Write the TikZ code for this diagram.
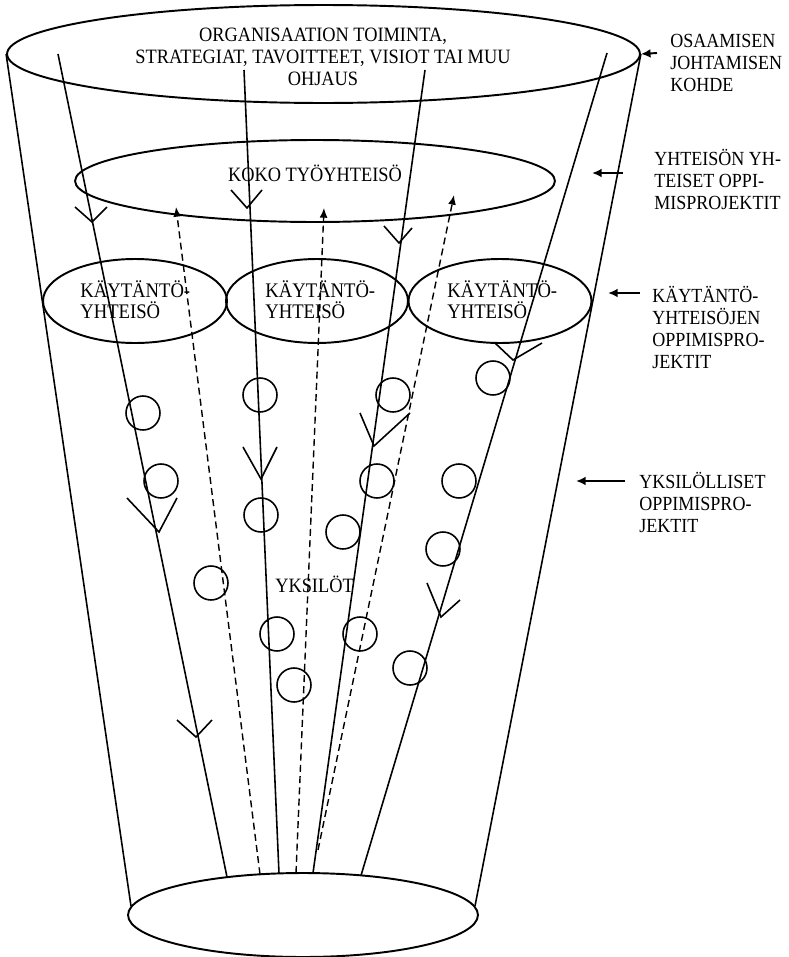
\documentclass[tikz,border=0pt]{standalone}
\usepackage{fontspec}
\setmainfont{Liberation Serif}[FakeStretch=0.9]
\usetikzlibrary{arrows.meta,shapes.geometric}
% fixed height for the first line of multi-line labels
\newcommand\firstrule{\rule{0pt}{12pt}}
\begin{document}
\begin{tikzpicture}[x=0.02cm,y=-0.02cm,
  rim/.style={draw,ellipse,line width=1.1pt,inner sep=0pt},
  person/.style={draw,circle,line width=0.9pt,minimum size=0.68cm,inner sep=0pt},
  flow/.style={line width=0.9pt},
  chevron/.style={line width=0.9pt},
  upflow/.style={line width=0.8pt,dash pattern=on 4pt off 2.4pt,-{Latex[length=5.5pt,width=4.5pt]}},
  pointer/.style={line width=1.1pt,-{Latex[length=5.5pt,width=5pt]}},
  body/.style={inner sep=0pt,font=\fontsize{11.6}{12.5}\selectfont},
  cop/.style={inner sep=0pt,anchor=north west,align=left,font=\fontsize{11.8}{11.9}\selectfont},
  side/.style={inner sep=0pt,anchor=north west,align=left,font=\fontsize{11.4}{12.6}\selectfont},
  ]
\useasboundingbox (0,0) rectangle (788,957);

% the cone: top and bottom rims
\node[rim,minimum width=12.66cm,minimum height=1.96cm] (top) at (323.5,54) {};
\node[rim,minimum width=7.0cm,minimum height=1.68cm] (bot) at (303,915) {};
\draw[flow] (top.west) -- (bot.177);
\draw[flow] (top.east) -- (bot.3);

% whole work community and communities of practice
\node[rim,minimum width=9.6cm,minimum height=1.64cm] (whole) at (315,181) {};
\node[rim,minimum width=3.68cm,minimum height=1.68cm] (cp1) at (135,301) {};
\node[rim,minimum width=3.64cm,minimum height=1.68cm] (cp2) at (317,301) {};
\node[rim,minimum width=3.66cm,minimum height=1.68cm] (cp3) at (500,301) {};

% texts
\node[body,anchor=north,align=center] (orgtext) at (323,19.9)
  {\firstrule ORGANISAATION TOIMINTA,\\STRATEGIAT, TAVOITTEET, VISIOT TAI MUU\\OHJAUS};
\node[body,anchor=base] (wholetext) at (315,181) {KOKO TYÖYHTEISÖ};
\node[cop] (cp1text) at (80,276) {\firstrule KÄYTÄNTÖ-\\YHTEISÖ};
\node[cop] (cp2text) at (265,276) {\firstrule KÄYTÄNTÖ-\\YHTEISÖ};
\node[cop] (cp3text) at (447,276) {\firstrule KÄYTÄNTÖ-\\YHTEISÖ};
\node[body,anchor=base] (indtext) at (314.5,592) {YKSILÖT};

% guiding lines from the top rim down to the bottom rim
\coordinate (s1) at (58,54);   \coordinate (e1) at (227,877);
\coordinate (s2) at (244,70);  \coordinate (e2) at (279,873.5);
\coordinate (s3) at (425,70);  \coordinate (e3) at (313,873);
\coordinate (s4) at (607,53);  \coordinate (e4) at (361,875.5);
\draw[flow] (s1) -- (e1);
\draw[flow] (s2) -- (e2);
\draw[flow] (s3) -- (e3);
\draw[flow] (s4) -- (e4);

% chevrons marking the downward direction
\draw[chevron] (75,207) -- (92,222) -- (107,207);
\draw[chevron] (231,190) -- (247,208) -- (262,190);
\draw[chevron] (384,226) -- (399,243) -- (412,228);
\draw[chevron] (495,343) -- (513,360) -- (542,343);
\draw[chevron] (243,447) -- (261,479) -- (277,447);
\draw[chevron] (360,413) -- (374,446) -- (410,413);
\draw[chevron] (127,498) -- (159,532) -- (177,498);
\draw[chevron] (427,583) -- (441,617) -- (460,600);
\draw[chevron] (177,720) -- (196,737) -- (212,720);

% dashed upward flows to the whole community
\coordinate (u1) at (260,874.3); \coordinate (t1) at (176,207);
\coordinate (u2) at (296,873);   \coordinate (t2) at (324,208);
\coordinate (u3) at (318,850);   \coordinate (t3) at (454,195);
\draw[upflow] (u1) -- (t1);
\draw[upflow] (u2) -- (t2);
\draw[upflow] (u3) -- (t3);

% individuals
\foreach \n/\px/\py in {1/143/413, 2/161/481, 3/260/395, 4/261/515, 5/393/395,
    6/377/481, 7/343/532, 8/493/378, 9/459/481, 10/443/549, 11/211/583,
    12/277/634, 13/360/634, 14/410/668, 15/294/685}
  \node[person] (p\n) at (\px,\py) {};

% level labels on the right
\node[side] (lab1) at (670,25.9) {\firstrule OSAAMISEN\\JOHTAMISEN\\KOHDE};
\node[side] (lab2) at (654,143.9) {\firstrule YHTEISÖN YH-\\TEISET OPPI-\\MISPROJEKTIT};
\node[side] (lab3) at (652,280.9) {\firstrule KÄYTÄNTÖ-\\YHTEISÖJEN\\OPPIMISPRO-\\JEKTIT};
\node[side] (lab4) at (639,466.9) {\firstrule YKSILÖLLISET\\OPPIMISPRO-\\JEKTIT};

\coordinate (a1) at (657,53);
\coordinate (a2) at (623,173);  \coordinate (b2) at (592,173);
\coordinate (a3) at (640,293);  \coordinate (b3) at (608,293);
\coordinate (a4) at (625,481);  \coordinate (b4) at (576,481);
\draw[pointer] (a1) -- (top.east);
\draw[pointer] (a2) -- (b2);
\draw[pointer] (a3) -- (b3);
\draw[pointer] (a4) -- (b4);
\end{tikzpicture}
\end{document}
